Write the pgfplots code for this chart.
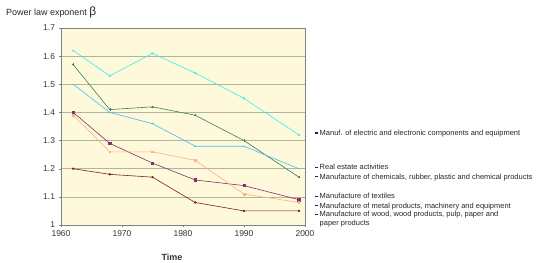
\documentclass[border=0pt]{standalone}
\usepackage{pgfplots}
\pgfplotsset{compat=1.18}
\usepackage{fontspec}
\setmainfont{Liberation Sans}
\definecolor{bgy}{HTML}{FDF9DA}
\definecolor{gridc}{HTML}{B4B2A0}
\definecolor{ccyan}{HTML}{33F0F0}
\definecolor{cgreen}{HTML}{3C8060}
\definecolor{cblue}{HTML}{40C0F0}
\definecolor{cpurple}{HTML}{803070}
\definecolor{corange}{HTML}{FFB080}
\definecolor{cred}{HTML}{802020}
\newcommand{\dsh}{\rule[0.22em]{2.6pt}{1.1pt}\hspace{2.2pt}}
\begin{document}
\begin{tikzpicture}
\useasboundingbox (-61bp,-38bp) rectangle (483bp,225bp);
\begin{axis}[
  at={(0,0)}, anchor=south west,
  scale only axis, width=244bp, height=197bp,
  xmin=1960, xmax=2000, ymin=1, ymax=1.7,
  xtick={1960,1970,...,2000},
  ytick={1,1.1,...,1.71},
  /pgf/number format/assume math mode=true,
  yticklabel style={/pgf/number format/.cd,fixed,precision=1},
  xticklabel style={/pgf/number format/.cd,set thousands separator={}},
  tick label style={font=\fontsize{8.5}{10}\selectfont, text=black!80},
  tick align=outside, tick pos=left,
  major tick length=2.5pt,
  axis background/.style={fill=bgy},
  ymajorgrids, grid style={gridc, line width=0.7pt},
  axis line style={black!50, line width=0.6pt},
  clip=false,
  every axis plot/.append style={line width=0.6pt, mark size=1.2pt},
]
\addplot[ccyan, mark=x] coordinates {(1962,1.62)(1968,1.53)(1975,1.61)(1982,1.54)(1990,1.45)(1999,1.32)};
\addplot[cgreen, mark=+] coordinates {(1962,1.57)(1968,1.41)(1975,1.42)(1982,1.39)(1990,1.30)(1999,1.17)};
\addplot[cblue, mark=-] coordinates {(1962,1.50)(1968,1.40)(1975,1.36)(1982,1.28)(1990,1.28)(1999,1.20)};
\addplot[cpurple, mark=square*] coordinates {(1962,1.40)(1968,1.29)(1975,1.22)(1982,1.16)(1990,1.14)(1999,1.09)};
\addplot[corange, mark=square*, mark size=0.9pt] coordinates {(1962,1.39)(1968,1.26)(1975,1.26)(1982,1.23)(1990,1.11)(1999,1.08)};
\addplot[cred, mark=*, mark size=0.9pt] coordinates {(1962,1.20)(1968,1.18)(1975,1.17)(1982,1.08)(1990,1.05)(1999,1.05)};
\begin{scope}[every node/.style={anchor=west, inner sep=0pt, font=\fontsize{7.5}{8.5}\selectfont, text=black!85}]
\node at (axis cs:2001.6,1.326) {\dsh Manuf. of electric and electronic components and equipment};
\node at (axis cs:2001.6,1.207) {\dsh Real estate activities};
\node at (axis cs:2001.6,1.170) {\dsh Manufacture of chemicals, rubber, plastic and chemical products};
\node at (axis cs:2001.6,1.103) {\dsh Manufacture of textiles};
\node at (axis cs:2001.6,1.067) {\dsh Manufacture of metal products, machinery and equipment};
\node at (axis cs:2001.6,1.036) {\dsh Manufacture of wood, wood products, pulp, paper and};
\node at (axis cs:2001.6,1.006) {\phantom{\dsh}paper products};
\end{scope}
\node[anchor=west, inner sep=0pt, font=\fontsize{9}{10}\selectfont, text=black!85] at (rel axis cs:0,1) [xshift=-55bp, yshift=16bp] {Power law exponent {\fontsize{12}{12}\selectfont β}};
\node[inner sep=0pt, font=\bfseries\fontsize{9}{10}\selectfont, text=black!80] at (rel axis cs:0.455,0) [yshift=-32bp] {Time};
\end{axis}
\end{tikzpicture}
\end{document}
